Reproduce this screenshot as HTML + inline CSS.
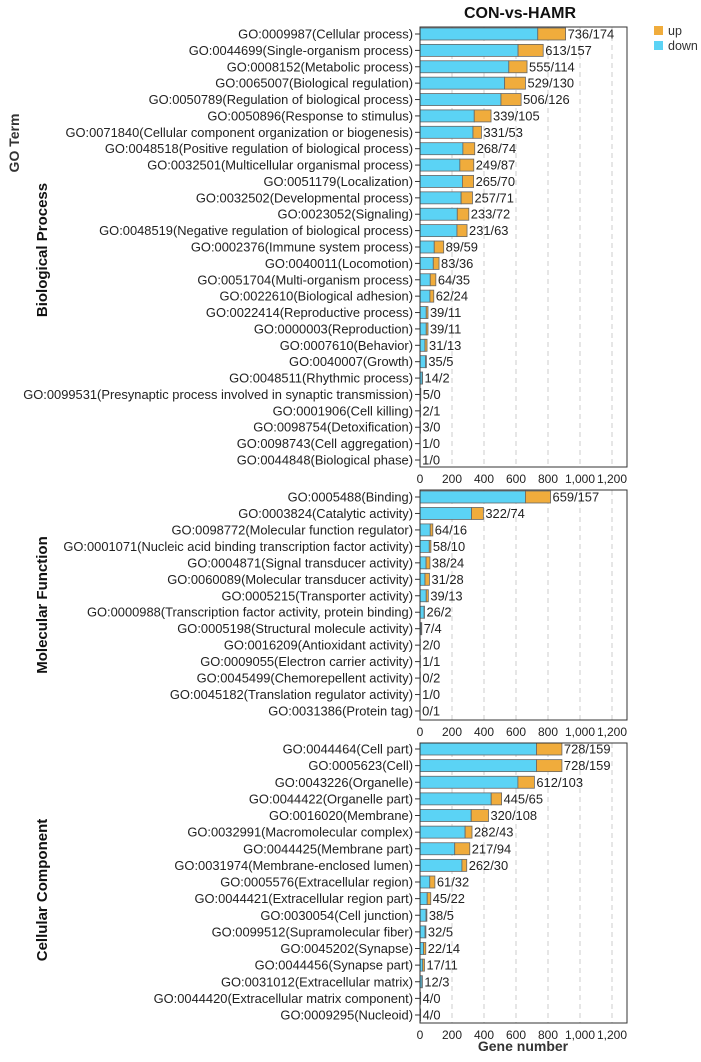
<!DOCTYPE html>
<html><head><meta charset="utf-8"><style>
body{margin:0;background:#fff}
svg{font-family:"Liberation Sans",Arial,sans-serif}
</style></head><body>
<svg id="c" width="701" height="1057"></svg>
<script>
const bpTerms=["GO:0009987(Cellular process)","GO:0044699(Single-organism process)","GO:0008152(Metabolic process)","GO:0065007(Biological regulation)","GO:0050789(Regulation of biological process)","GO:0050896(Response to stimulus)","GO:0071840(Cellular component organization or biogenesis)","GO:0048518(Positive regulation of biological process)","GO:0032501(Multicellular organismal process)","GO:0051179(Localization)","GO:0032502(Developmental process)","GO:0023052(Signaling)","GO:0048519(Negative regulation of biological process)","GO:0002376(Immune system process)","GO:0040011(Locomotion)","GO:0051704(Multi-organism process)","GO:0022610(Biological adhesion)","GO:0022414(Reproductive process)","GO:0000003(Reproduction)","GO:0007610(Behavior)","GO:0040007(Growth)","GO:0048511(Rhythmic process)","GO:0099531(Presynaptic process involved in synaptic transmission)","GO:0001906(Cell killing)","GO:0098754(Detoxification)","GO:0098743(Cell aggregation)","GO:0044848(Biological phase)"];
const bpDown=[736,613,555,529,506,339,331,268,249,265,257,233,231,89,83,64,62,39,39,31,35,14,5,2,3,1,1];
const bpUp=[174,157,114,130,126,105,53,74,87,70,71,72,63,59,36,35,24,11,11,13,5,2,0,1,0,0,0];
const mfTerms=["GO:0005488(Binding)","GO:0003824(Catalytic activity)","GO:0098772(Molecular function regulator)","GO:0001071(Nucleic acid binding transcription factor activity)","GO:0004871(Signal transducer activity)","GO:0060089(Molecular transducer activity)","GO:0005215(Transporter activity)","GO:0000988(Transcription factor activity, protein binding)","GO:0005198(Structural molecule activity)","GO:0016209(Antioxidant activity)","GO:0009055(Electron carrier activity)","GO:0045499(Chemorepellent activity)","GO:0045182(Translation regulator activity)","GO:0031386(Protein tag)"];
const mfDown=[659,322,64,58,38,31,39,26,7,2,1,0,1,0];
const mfUp=[157,74,16,10,24,28,13,2,4,0,1,2,0,1];
const ccTerms=["GO:0044464(Cell part)","GO:0005623(Cell)","GO:0043226(Organelle)","GO:0044422(Organelle part)","GO:0016020(Membrane)","GO:0032991(Macromolecular complex)","GO:0044425(Membrane part)","GO:0031974(Membrane-enclosed lumen)","GO:0005576(Extracellular region)","GO:0044421(Extracellular region part)","GO:0030054(Cell junction)","GO:0099512(Supramolecular fiber)","GO:0045202(Synapse)","GO:0044456(Synapse part)","GO:0031012(Extracellular matrix)","GO:0044420(Extracellular matrix component)","GO:0009295(Nucleoid)"];
const ccDown=[728,728,612,445,320,282,217,262,61,45,38,32,22,17,12,4,4];
const ccUp=[159,159,103,65,108,43,94,30,32,22,5,5,14,11,3,0,0];
const ticks=[0,200,400,600,800,1000,1200];
const tickLabels=["0","200","400","600","800","1,000","1,200"];

const NS="http://www.w3.org/2000/svg",svg=document.getElementById('c');
const X0=420,X1=627,K=0.16;
const x=v=>X0+v*K;
function mk(t,a,p){const e=document.createElementNS(NS,t);for(const k in a)e.setAttribute(k,a[k]);(p||svg).appendChild(e);return e;}
function txt(s,a,p){const e=mk('text',a,p);e.textContent=s;return e;}

function panel(name,title,terms,down,up,top,bottom,y0,y1,titleY){
  const g=mk('g',{});
  
  
  ticks.forEach((t,i)=>{ if(i>0){const l=mk('line',{x1:x(t),x2:x(t),y1:top,y2:bottom,stroke:'#ccc','stroke-dasharray':'5,4'},g);
    }
    const tl=txt(tickLabels[i],{x:x(t),y:bottom+16,'font-size':12,'text-anchor':'middle',fill:'#222'},g);
    });
  const step=(y1-y0)/(terms.length-1);
  terms.forEach((t,i)=>{
    const cy=y0+i*step;
    const lb=txt(t,{x:413,y:cy+4.5,'font-size':12.9,'text-anchor':'end',fill:'#222'},g);
    
    mk('line',{x1:415,x2:420,y1:cy,y2:cy,stroke:'#333'},g);
    const bd=mk('rect',{x:X0,y:cy-6,width:down[i]*K,height:12,fill:'#5bd3f5',stroke:'#666','stroke-width':0.8},g);
    
    const bu=mk('rect',{x:x(down[i]),y:cy-6,width:up[i]*K,height:12,fill:'#f0ac3c',stroke:'#666','stroke-width':0.8},g);
    
    const vl=txt(down[i]+'/'+up[i],{x:x(down[i]+up[i])+2,y:cy+4.5,'font-size':12.9,fill:'#222'},g);
    
  });
  mk('rect',{x:X0,y:top,width:X1-X0,height:bottom-top,fill:'none',stroke:'#333','stroke-width':1},g);
  const tt=txt(title,{x:0,y:0,'font-size':15,'font-weight':'bold','text-anchor':'middle',transform:`translate(47,${titleY}) rotate(-90)`,fill:'#111'},g);
  
}
panel('biological-process','Biological Process',bpTerms,bpDown,bpUp,27,467,34,460,250);
panel('molecular-function','Molecular Function',mfTerms,mfDown,mfUp,490,720,497,711,605);
panel('cellular-component','Cellular Component',ccTerms,ccDown,ccUp,743,1023,749,1015,890);

let e=txt('CON-vs-HAMR',{x:520,y:18,'font-size':16,'font-weight':'bold','text-anchor':'middle',fill:'#111'});

e=txt('GO Term',{x:0,y:0,'font-size':14,'font-weight':'bold','text-anchor':'middle',transform:'translate(19,143) rotate(-90)',fill:'#333'});

e=txt('Gene number',{x:523,y:1051,'font-size':14,'font-weight':'bold','text-anchor':'middle',fill:'#333'});

e=mk('rect',{x:654,y:26,width:9,height:9,fill:'#f0ac3c'});

e=txt('up',{x:668,y:35,'font-size':12.5,fill:'#333'});

e=mk('rect',{x:654,y:41,width:9,height:9,fill:'#5bd3f5'});

e=txt('down',{x:668,y:50,'font-size':12.5,fill:'#333'});

</script>
</body></html>
